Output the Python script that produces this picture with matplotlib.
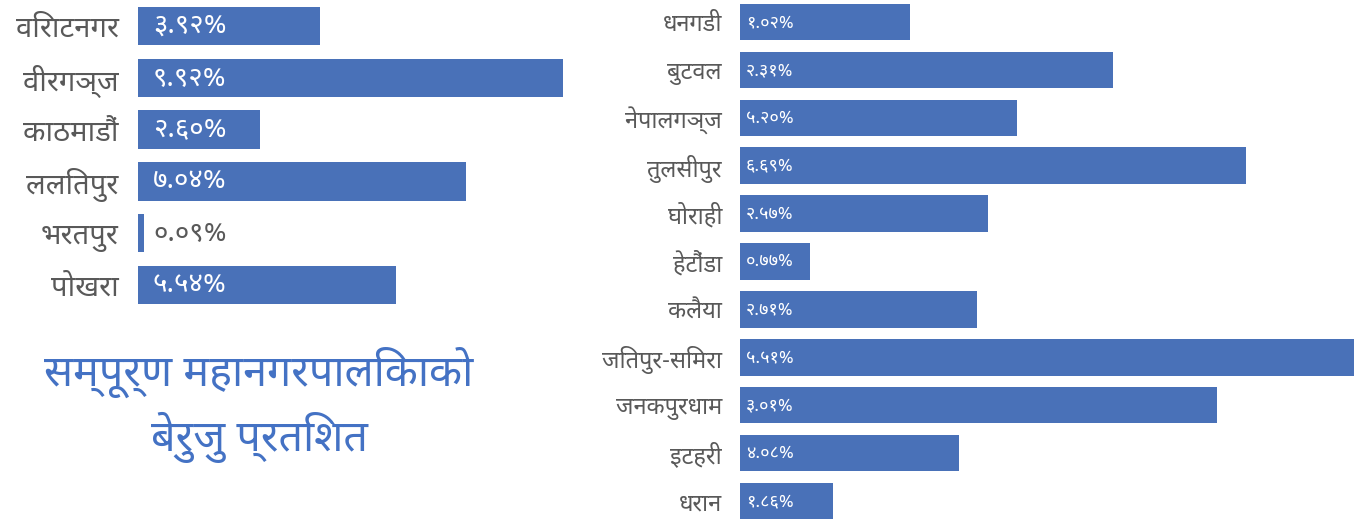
import matplotlib
matplotlib.use("Agg")
import matplotlib.pyplot as plt

plt.rcParams['font.family'] = ['Noto Sans Devanagari', 'Noto Sans', 'DejaVu Sans']

# सम्पूर्ण महानगरपालिका (बायाँ)
left_cities = ['विराटनगर', 'वीरगञ्ज', 'काठमाडौं', 'ललितपुर', 'भरतपुर', 'पोखरा']
left_labels = ['३.९२%', '९.९२%', '२.६०%', '७.०४%', '०.०९%', '५.५४%']
# bar lengths as drawn in the picture (they don't follow the labels exactly)
left_bars = [4.25, 9.92, 2.85, 7.66, 0.14, 6.02]

# उप-महानगरपालिका (दायाँ)
right_cities = ['धनगडी', 'बुटवल', 'नेपालगञ्ज', 'तुलसीपुर', 'घोराही', 'हेटौंडा',
                'कलैया', 'जितपुर-सिमरा', 'जनकपुरधाम', 'इटहरी', 'धरान']
right_labels = ['१.०२%', '२.३१%', '५.२०%', '६.६९%', '२.५७%', '०.७७%',
                '२.७१%', '५.५१%', '३.०१%', '४.०८%', '१.८६%']
right_bars = [1.06, 2.33, 1.73, 3.16, 1.55, 0.44, 1.48, 3.84, 2.98, 1.37, 0.58]

title = 'सम्पूर्ण महानगरपालिकाको\nबेरुजु प्रतिशत'

BAR = '#4971B8'
GREY = '#595959'
W, H = 1368, 522

fig = plt.figure(figsize=(W / 100, H / 100), dpi=100)


def px_axes(x0, y0, w, h):
    # y0 = top edge in pixels from top
    return fig.add_axes([x0 / W, 1 - (y0 + h) / H, w / W, h / H])


def draw(ax, cities, bars, labels, bh, city_fs, val_fs, pad, off, xmax):
    n = len(cities)
    ax.barh(range(n), bars, height=bh, color=BAR)
    ax.set_ylim(n - 0.5, -0.5)
    ax.set_xlim(0, xmax)
    ax.set_yticks(range(n))
    ax.set_yticklabels(cities, fontsize=city_fs, color=GREY)
    ax.tick_params(axis='y', length=0, pad=pad)
    ax.set_xticks([])
    for s in ax.spines.values():
        s.set_visible(False)
    for i, (b, lab) in enumerate(zip(bars, labels)):
        col = 'white' if b > xmax * 0.08 else GREY
        ax.annotate(lab, (0, i), xytext=(off, 0), textcoords='offset pixels',
                    va='center', ha='left', fontsize=val_fs, color=col)


ax1 = px_axes(138, 0, 440, 311)
draw(ax1, left_cities, left_bars, left_labels, 0.74, 21, 20, 14, 15, 440 / 42.84)

ax2 = px_axes(740, -2, 628, 527)
draw(ax2, right_cities, right_bars, right_labels, 0.76, 17, 13, 13, 6, 628 / 160)

fig.text(259 / W, 1 - 405 / H, title, ha='center', va='center', fontsize=31,
         color='#4472C4', linespacing=1.35)

fig.savefig('out.png', dpi=100)
